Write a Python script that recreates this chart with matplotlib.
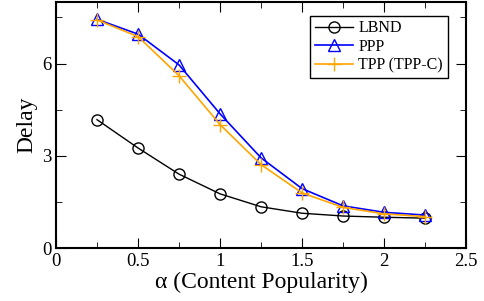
import numpy as np
import matplotlib.pyplot as plt
from matplotlib.ticker import MultipleLocator

alpha = [0.25, 0.5, 0.75, 1.0, 1.25, 1.5, 1.75, 2.0, 2.25]
lbnd = [4.18, 3.26, 2.41, 1.77, 1.35, 1.14, 1.05, 1.01, 0.98]
ppp = [7.44, 6.96, 5.96, 4.37, 2.94, 1.94, 1.38, 1.17, 1.08]
tpp = [7.42, 6.88, 5.61, 4.02, 2.72, 1.80, 1.33, 1.12, 1.03]

plt.rcParams['font.family'] = ['Liberation Serif', 'DejaVu Serif']

fig = plt.figure(figsize=(4.85, 3.01), dpi=100)
ax = fig.add_axes([0.1155, 0.175, 0.8455, 0.818])

ax.plot(alpha, lbnd, color='black', lw=1, marker='o', ms=8, mfc='none', mew=1, label='LBND')
ax.plot(alpha, ppp, color='blue', lw=1.2, marker='^', ms=8, mfc='none', mew=1, label='PPP')
ax.plot(alpha, tpp, color='#FFA500', lw=1.2, marker='+', ms=10, mew=1, label='TPP (TPP-C)')

ax.set_xlim(0, 2.5)
ax.set_ylim(0, 8)
ax.set_xticks([0, 0.5, 1, 1.5, 2, 2.5])
ax.set_xticklabels(['0', '0.5', '1', '1.5', '2', '2.5'])
ax.xaxis.set_minor_locator(MultipleLocator(0.25))
ax.yaxis.set_major_locator(MultipleLocator(3))
ax.yaxis.set_minor_locator(MultipleLocator(1.5))
ax.tick_params(which='both', direction='in', top=True, right=True, labelsize=13.5)
ax.tick_params(which='major', length=7)
ax.tick_params(which='minor', length=4)
for s in ax.spines.values():
    s.set_linewidth(1.5)

ax.set_xlabel('α (Content Popularity)', fontsize=17, labelpad=1)
ax.set_ylabel('Delay', fontsize=17, labelpad=3)

leg = ax.legend(loc='upper right', bbox_to_anchor=(0.955, 0.945), fontsize=11.5,
                fancybox=False, edgecolor='black', framealpha=1, handlelength=2.4,
                borderpad=0.3, labelspacing=0.15, handletextpad=0.3, borderaxespad=0)
leg.get_frame().set_linewidth(1)

fig.savefig('out.png', dpi=100)
